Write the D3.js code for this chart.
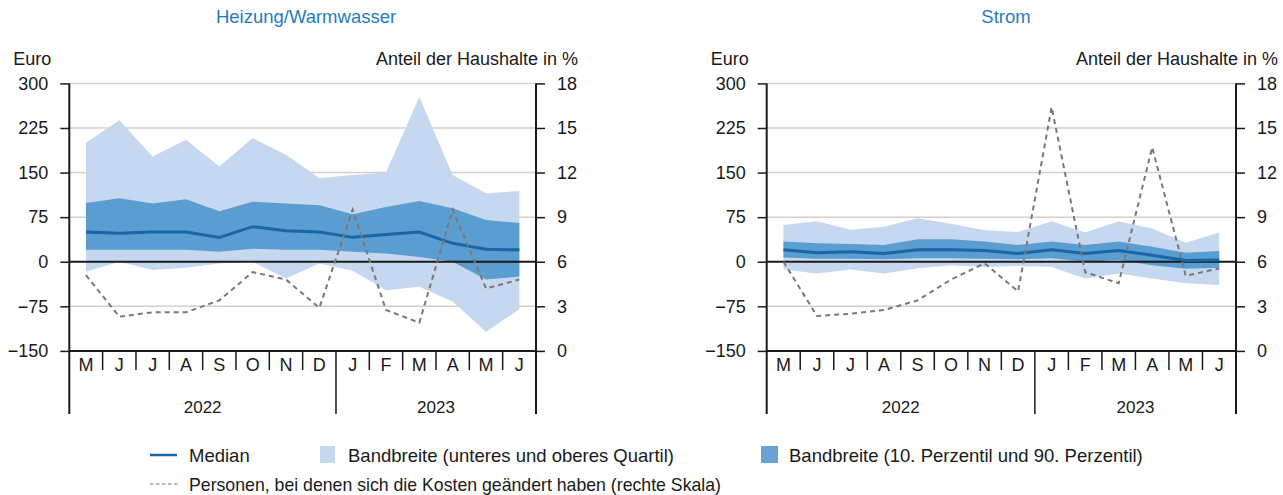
<!DOCTYPE html>
<html lang="de">
<head>
<meta charset="utf-8">
<script src="https://cdn.jsdelivr.net/npm/d3@7/dist/d3.min.js"></script>
<style>
  html, body { margin: 0; padding: 0; background: #fff; }
  svg { display: block; font-family: "Liberation Sans", Arial, Helvetica, sans-serif; }
</style>
</head>
<body>
<div id="chart"></div>
<script>
// months May 2022 - June 2023
const months = ['M', 'J', 'J', 'A', 'S', 'O', 'N', 'D', 'J', 'F', 'M', 'A', 'M', 'J']
const years = [
  { label: '2022', start: 0, end: 8 },
  { label: '2023', start: 8, end: 14 }
]
const euroTicks = [-150, -75, 0, 75, 150, 225, 300]
const shareTicks = [0, 3, 6, 9, 12, 15, 18]

// Heizung/Warmwasser (Euro)
const heizungQuartilHigh = [200, 238, 177, 205, 160, 208, 180, 141, 146, 150, 277, 146, 115, 119]
const heizungQuartilLow  = [-17, 0, -14, -10, -3, 0, -28, -3, -15, -48, -42, -67, -118, -80]
const heizungPerzHigh    = [99, 107, 98, 105, 85, 101, 98, 95, 80, 92, 102, 90, 70, 65]
const heizungPerzLow     = [20, 20, 20, 20, 17, 22, 20, 20, 17, 14, 8, 0, -30, -25]
const heizungMedian      = [50, 48, 50, 50, 41, 59, 52, 50, 41, 46, 50, 31, 21, 20]
const heizungShare       = [5.1, 2.3, 2.6, 2.6, 3.4, 5.3, 4.8, 2.9, 9.5, 2.75, 1.9, 9.5, 4.2, 4.8]

// Strom (Euro)
const stromQuartilHigh = [62, 68, 54, 59, 73, 64, 53, 50, 68, 49, 68, 56, 32, 49]
const stromQuartilLow  = [-13, -20, -13, -20, -11, -6, -9, -7, -9, -28, -20, -28, -36, -39]
const stromPerzHigh    = [34, 31, 30, 28, 38, 38, 34, 28, 34, 28, 34, 25, 15, 18]
const stromPerzLow     = [7, 5, 5, 4, 6, 6, 5, 4, 6, 0, 3, -6, -12, -10]
const stromMedian      = [20, 15, 17, 14, 20, 20, 19, 14, 20, 14, 19, 11, 2, 3]
const stromShare       = [6.0, 2.35, 2.5, 2.75, 3.4, 4.8, 5.9, 4.0, 16.4, 5.3, 4.55, 13.7, 5.05, 5.55]

const W = 1283, H = 495
const colLight = '#c6d8ef'
const colDark = '#5a9dd0'
const colMedian = '#1766a6'
const colShare = '#7d7773'
const colGrid = '#d9cec7'
const colText = '#1a1a1a'

const svg = d3.select('#chart').append('svg')
  .attr('width', W)
  .attr('height', H)

const yTop = 83.4, yBottom = 350.9, yBase = 414

drawPanel({
  x0: 69.3, x1: 536, title: 'Heizung/Warmwasser', titleX: 306,
  qHigh: heizungQuartilHigh, qLow: heizungQuartilLow,
  pHigh: heizungPerzHigh, pLow: heizungPerzLow,
  median: heizungMedian, share: heizungShare
})
drawPanel({
  x0: 766.7, x1: 1236, title: 'Strom', titleX: 1006,
  qHigh: stromQuartilHigh, qLow: stromQuartilLow,
  pHigh: stromPerzHigh, pLow: stromPerzLow,
  median: stromMedian, share: stromShare
})

function drawPanel(p) {
  const g = svg.append('g')

  let x = d3.scaleBand()
    .domain(d3.range(months.length))
    .range([p.x0, p.x1])
  const cx = i => x(i) + x.bandwidth() / 2

  let y = d3.scaleLinear().domain([-150, 300]).range([yBottom, yTop])
  let y2 = d3.scaleLinear().domain([0, 18]).range([yBottom, yTop])

  // title
  g.append('text')
    .attr('x', p.titleX).attr('y', 23)
    .attr('text-anchor', 'middle')
    .attr('fill', '#1f7dbf')
    .style('font-size', '18.5px')
    .text(p.title)

  g.append('text')
    .attr('x', p.x0 - 56).attr('y', 65)
    .attr('fill', colText)
    .style('font-size', '18px')
    .text('Euro')

  g.append('text')
    .attr('x', p.x1 + 42).attr('y', 65)
    .attr('text-anchor', 'end')
    .attr('fill', colText)
    .style('font-size', '18px')
    .text('Anteil der Haushalte in %')

  // grid lines
  g.selectAll('line.grid')
    .data(euroTicks.filter(d => d !== 0 && d !== -150))
    .enter()
    .append('line')
    .attr('class', 'grid')
    .attr('x1', p.x0).attr('x2', p.x1)
    .attr('y1', d => y(d)).attr('y2', d => y(d))
    .attr('stroke', colGrid)
    .attr('stroke-width', 1.5)

  const idx = d3.range(months.length)

  let areaQ = d3.area()
    .x(i => cx(i))
    .y0(i => y(p.qLow[i]))
    .y1(i => y(p.qHigh[i]))
  let areaP = d3.area()
    .x(i => cx(i))
    .y0(i => y(p.pLow[i]))
    .y1(i => y(p.pHigh[i]))

  g.append('path').datum(idx).attr('d', areaQ).attr('fill', colLight)
  g.append('path').datum(idx).attr('d', areaP).attr('fill', colDark)

  // zero line
  g.append('line')
    .attr('x1', p.x0).attr('x2', p.x1)
    .attr('y1', y(0)).attr('y2', y(0))
    .attr('stroke', '#1a1a1a')
    .attr('stroke-width', 2)

  let medLine = d3.line().x(i => cx(i)).y(i => y(p.median[i]))
  g.append('path').datum(idx)
    .attr('d', medLine)
    .attr('fill', 'none')
    .attr('stroke', colMedian)
    .attr('stroke-width', 3)

  let shareLine = d3.line().x(i => cx(i)).y(i => y2(p.share[i]))
  g.append('path').datum(idx)
    .attr('d', shareLine)
    .attr('fill', 'none')
    .attr('stroke', colShare)
    .attr('stroke-width', 2)
    .attr('stroke-dasharray', '5,4')

  // axes
  let yAxis = d3.axisLeft(y).tickValues(euroTicks).tickSize(9).tickPadding(12)
  let yAxis2 = d3.axisRight(y2).tickValues(shareTicks).tickSize(9).tickPadding(12)

  const gl = g.append('g').attr('transform', 'translate(' + p.x0 + ',0)').call(yAxis)
  const gr = g.append('g').attr('transform', 'translate(' + p.x1 + ',0)').call(yAxis2)
  ;[gl, gr].forEach(a => {
    a.select('.domain').remove()
    a.selectAll('line').attr('stroke', '#1a1a1a').attr('stroke-width', 1.5)
    a.selectAll('text')
      .attr('fill', colText)
      .style('font-size', '18px')
      .style('font-family', '"Liberation Sans", Arial, sans-serif')
  })

  // axis lines
  g.append('line')
    .attr('x1', p.x0).attr('x2', p.x0).attr('y1', yTop).attr('y2', yBase)
    .attr('stroke', '#1a1a1a').attr('stroke-width', 2)
  g.append('line')
    .attr('x1', p.x1).attr('x2', p.x1).attr('y1', yTop).attr('y2', yBase)
    .attr('stroke', '#1a1a1a').attr('stroke-width', 2)
  g.append('line')
    .attr('x1', p.x0).attr('x2', p.x1).attr('y1', yBottom).attr('y2', yBottom)
    .attr('stroke', '#1a1a1a').attr('stroke-width', 2)

  // month separators
  g.selectAll('line.sep')
    .data(d3.range(1, months.length))
    .enter()
    .append('line')
    .attr('class', 'sep')
    .attr('x1', i => x(i)).attr('x2', i => x(i))
    .attr('y1', yBottom)
    .attr('y2', i => years.some(yr => yr.start === i) ? yBase : 370)
    .attr('stroke', '#1a1a1a')
    .attr('stroke-width', 1.5)

  g.selectAll('text.month')
    .data(months)
    .enter()
    .append('text')
    .attr('class', 'month')
    .attr('x', (d, i) => cx(i))
    .attr('y', 371)
    .attr('text-anchor', 'middle')
    .attr('fill', colText)
    .style('font-size', '18px')
    .text(d => d)

  g.selectAll('text.year')
    .data(years)
    .enter()
    .append('text')
    .attr('class', 'year')
    .attr('x', d => (x(d.start) + (d.end < months.length ? x(d.end) : p.x1)) / 2)
    .attr('y', 413)
    .attr('text-anchor', 'middle')
    .attr('fill', colText)
    .style('font-size', '17px')
    .text(d => d.label)
}

// legend
const lg = svg.append('g').style('font-size', '18.5px').attr('fill', colText)
lg.append('line')
  .attr('x1', 150).attr('x2', 177).attr('y1', 455).attr('y2', 455)
  .attr('stroke', colMedian).attr('stroke-width', 2.5)
lg.append('text').attr('x', 189).attr('y', 461.5).text('Median')

lg.append('rect')
  .attr('x', 320).attr('y', 446).attr('width', 15).attr('height', 17)
  .attr('fill', colLight)
lg.append('text').attr('x', 348).attr('y', 461.5).text('Bandbreite (unteres und oberes Quartil)')

lg.append('rect')
  .attr('x', 761).attr('y', 446).attr('width', 17).attr('height', 17)
  .attr('fill', '#6aa2d4')
lg.append('text').attr('x', 789).attr('y', 461.5).text('Bandbreite (10. Perzentil und 90. Perzentil)')

lg.append('line')
  .attr('x1', 150).attr('x2', 180).attr('y1', 484).attr('y2', 484)
  .attr('stroke', colShare).attr('stroke-width', 1.2).attr('stroke-dasharray', '3.5,2.5')
lg.append('text').attr('x', 189).attr('y', 490.5)
  .style('font-size', '17.7px')
  .text('Personen, bei denen sich die Kosten geändert haben (rechte Skala)')
</script>
</body>
</html>
